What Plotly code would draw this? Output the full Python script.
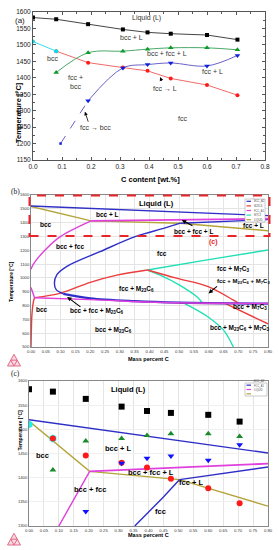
import plotly.graph_objects as go

W, H = 278, 550

# ---------------- data: experimental points (panels a and c) ----------------
x_liq = [0.0, 0.08, 0.19, 0.31, 0.395, 0.475, 0.60, 0.705]
T_liq = [1583, 1578, 1563, 1547, 1538, 1534, 1530, 1516]
x_cyan = [0.0, 0.08]
T_cyan = [1510, 1481]
x_red = [0.08, 0.19, 0.31, 0.395, 0.475, 0.60, 0.705]
T_red = [1481, 1446, 1431, 1421, 1398, 1378, 1347]
x_green = [0.08, 0.19, 0.31, 0.395, 0.475, 0.60, 0.705]
T_green = [1416, 1476, 1481, 1487, 1491, 1491, 1485]
x_blue = [0.19, 0.31, 0.395, 0.475, 0.60, 0.705]
T_blue = [1330, 1430, 1440, 1445, 1436, 1468]
x_blue_dash = [0.095, 0.19]
T_blue_dash = [1200, 1330]

# ---------------- data: calculated phase boundaries (panels b and c) ----------------
liq_blue_x = [0.0, 0.8]
liq_blue_T = [1520, 1451]
liquid_x = [0.0, 0.203, 0.504, 0.8]
liquid_T = [1517, 1413, 1396, 1341]
fcc_top_x = [0.203, 0.8]
fcc_top_T = [1413, 1429]
fcc_curve_x = [0.0, 0.008, 0.047, 0.1, 0.203]
fcc_curve_T = [1062, 1100, 1200, 1300, 1413]
bcc_top_x = [0.504, 0.8]
bcc_top_T = [1396, 1422]
bcc_curve_x = [0.504, 0.45, 0.354, 0.233, 0.12, 0.087, 0.079, 0.085, 0.109]
bcc_curve_T = [1396, 1360, 1300, 1190, 1082, 1022, 961, 915, 885]
bcc_low_x = [0.109, 0.2, 0.35, 0.5, 0.8]
bcc_low_T = [885, 853, 832, 821, 814]
fcc_low1_x = [0.0, 0.012]
fcc_low1_T = [930, 856]
fcc_low2_x = [0.012, 0.2, 0.45, 0.8]
fcc_low2_T = [856, 843, 822, 815]
m23_left_x = [0.0, 0.001, 0.003, 0.008, 0.012]
m23_left_T = [500, 600, 730, 827, 857]
m23_solv_x = [0.012, 0.1, 0.2, 0.29, 0.393]
m23_solv_T = [857, 890, 968, 1020, 1057]
m23_right_x = [0.393, 0.491, 0.598, 0.682, 0.70]
m23_right_T = [1057, 998, 937, 841, 818]
m23_low_x = [0.5, 0.655, 0.8]
m23_low_T = [817, 815, 668]
m7_up_x = [0.393, 0.6, 0.8]
m7_up_T = [1057, 1132, 1202]
m7_mid_x = [0.393, 0.436, 0.5, 0.56, 0.58]
m7_mid_T = [1057, 1020, 950, 863, 815]
m7_low_x = [0.52, 0.56, 0.605, 0.65, 0.683]
m7_low_T = [812, 767, 706, 622, 500]

legend_b = ["BCC_A2", "M23C6", "FCC_A1", "M7C3", "LIQUID"]
legend_c = ["BCC_A2", "FCC_A1", "LIQUID"]

C_BLUE = "#2f2fc8"
C_RED = "#ec3c3c"
C_MAG = "#e040dc"
C_CYAN = "#20e0b4"
C_OLIVE = "#b4a43a"
LEG_COL = {"BCC_A2": C_BLUE, "M23C6": C_RED, "FCC_A1": C_MAG, "M7C3": C_CYAN, "LIQUID": C_OLIVE}

FONT = "Liberation Sans"


def px(x):
    return x / W


def py(y):
    return 1 - y / H


fig = go.Figure()

# ---------------- panel (a) ----------------
A = dict(xaxis="x", yaxis="y")
fig.add_trace(go.Scatter(x=x_liq, y=T_liq, mode="lines+markers", line=dict(color="#444", width=1),
                         marker=dict(symbol="square", size=4, color="black"), **A))
fig.add_trace(go.Scatter(x=x_red, y=T_red, mode="lines+markers", line=dict(color="#f26a6a", width=1),
                         marker=dict(symbol="circle", size=4, color="#ff1a1a"), **A))
fig.add_trace(go.Scatter(x=x_cyan, y=T_cyan, mode="lines+markers", line=dict(color="#33e0f0", width=1),
                         marker=dict(symbol="circle", size=4, color="#00e0f0"), **A))
fig.add_trace(go.Scatter(x=x_green, y=T_green, mode="lines+markers",
                         line=dict(color="#4aa86a", width=1, shape="spline", smoothing=1.0),
                         marker=dict(symbol="triangle-up", size=5, color="#0c9a2a"), **A))
fig.add_trace(go.Scatter(x=x_blue, y=T_blue, mode="lines+markers",
                         line=dict(color="#6a62c8", width=1, shape="spline", smoothing=1.0),
                         marker=dict(symbol="triangle-down", size=5, color="#1020e0"), **A))
fig.add_trace(go.Scatter(x=x_blue_dash, y=T_blue_dash, mode="lines",
                         line=dict(color="#6a62c8", width=1, dash="dash"), **A))
fig.add_trace(go.Scatter(x=x_blue_dash[:1], y=T_blue_dash[:1], mode="markers",
                         marker=dict(symbol="square", size=2.5, color="#1020e0"), **A))

# ---------------- panel (b) ----------------
B = dict(xaxis="x2", yaxis="y2", mode="lines")


def bline(x, y, c, w=1.4, spline=False):
    ln = dict(color=c, width=w)
    if spline:
        ln.update(shape="spline", smoothing=1.0)
    fig.add_trace(go.Scatter(x=x, y=y, line=ln, **B))


bline(m7_up_x, m7_up_T, C_CYAN, spline=True)
bline(m7_mid_x, m7_mid_T, C_CYAN, spline=True)
bline(m7_low_x, m7_low_T, C_CYAN, spline=True)
bline(m23_left_x, m23_left_T, C_RED, spline=True)
bline(m23_solv_x, m23_solv_T, C_RED, spline=True)
bline(m23_right_x, m23_right_T, C_RED, spline=True)
bline(m23_low_x, m23_low_T, C_RED)
bline(liquid_x, liquid_T, C_OLIVE)
bline(fcc_curve_x, fcc_curve_T, C_MAG, spline=True)
bline(fcc_low1_x, fcc_low1_T, C_MAG)
bline(bcc_curve_x, bcc_curve_T, C_BLUE, spline=True)
bline(bcc_low_x, bcc_low_T, C_BLUE, w=2.2, spline=True)
bline(fcc_low2_x, fcc_low2_T, C_MAG, spline=True)
bline(bcc_top_x, bcc_top_T, C_BLUE)
bline(fcc_top_x, fcc_top_T, C_MAG, w=1.8)
bline(liq_blue_x, liq_blue_T, C_BLUE)

# ---------------- panel (c) ----------------
Cc = dict(xaxis="x3", yaxis="y3", mode="lines")
fig.add_trace(go.Scatter(x=liq_blue_x, y=liq_blue_T, line=dict(color=C_BLUE, width=1.4), **Cc))
fig.add_trace(go.Scatter(x=liquid_x, y=liquid_T, line=dict(color=C_OLIVE, width=1.4), **Cc))
fig.add_trace(go.Scatter(x=fcc_curve_x, y=fcc_curve_T, line=dict(color=C_MAG, width=1.4), **Cc))
fig.add_trace(go.Scatter(x=fcc_top_x, y=fcc_top_T, line=dict(color=C_MAG, width=1.8), **Cc))
fig.add_trace(go.Scatter(x=bcc_curve_x[:3], y=bcc_curve_T[:3], line=dict(color=C_BLUE, width=1.4), **Cc))
fig.add_trace(go.Scatter(x=bcc_top_x, y=bcc_top_T, line=dict(color=C_BLUE, width=1.4), **Cc))

M = dict(xaxis="x3", yaxis="y3", mode="markers")
fig.add_trace(go.Scatter(x=x_liq, y=T_liq, marker=dict(symbol="square", size=6, color="black"), **M))
fig.add_trace(go.Scatter(x=x_cyan, y=T_cyan, marker=dict(symbol="hexagon", size=8, color="#19f0f0"), **M))
fig.add_trace(go.Scatter(x=x_green, y=T_green, marker=dict(symbol="triangle-up", size=6, color="#1a8a2a"), **M))
fig.add_trace(go.Scatter(x=x_red, y=T_red, marker=dict(symbol="circle", size=6, color="#ff1a1a"), **M))
fig.add_trace(go.Scatter(x=x_blue, y=T_blue, marker=dict(symbol="triangle-down", size=6, color="#1010ff"), **M))

# ---------------- axes ----------------
tick_a = dict(family=FONT, size=6.5, color="#222")
tick_bc = dict(family=FONT, size=4.2, color="#333")
ax_a = dict(showline=True, linecolor="#555", linewidth=1, mirror="ticks", ticks="inside", ticklen=3,
            tickcolor="#555", showgrid=False, zeroline=False, tickfont=tick_a, automargin=False)
ax_bc = dict(showline=True, linecolor="#888", linewidth=0.8, mirror=True, ticks="", showgrid=True,
             gridcolor="#e4e4e4", gridwidth=0.6, zeroline=False, tickfont=tick_bc, automargin=False)

fig.update_layout(
    width=W, height=H, margin=dict(l=0, r=0, t=0, b=0, autoexpand=False), showlegend=False,
    paper_bgcolor="white", plot_bgcolor="white",
    xaxis=dict(domain=[px(33), px(265)], anchor="y", range=[0, 0.8], dtick=0.1, tickformat=".1f",
               minor=dict(ticks="inside", ticklen=2, dtick=0.05, tickcolor="#555"), **ax_a),
    yaxis=dict(domain=[py(160), py(12)], anchor="x", range=[1150, 1600], dtick=50,
               minor=dict(ticks="inside", ticklen=2, dtick=25, tickcolor="#555"), **ax_a),
    xaxis2=dict(domain=[px(31), px(268)], anchor="y2", range=[0, 0.8], dtick=0.05, tickformat=".2f", **ax_bc),
    yaxis2=dict(domain=[py(347), py(195)], anchor="x2", range=[500, 1600], dtick=100, **ax_bc),
    xaxis3=dict(domain=[px(29), px(268)], anchor="y3", range=[0, 0.8], dtick=0.05, tickformat=".2f", **ax_bc),
    yaxis3=dict(domain=[py(526), py(381)], anchor="x3", range=[1300, 1600], dtick=50,
                **{**ax_bc, "gridcolor": "#f0f0f0"}),
)

# ---------------- annotations ----------------
ann = []


def lab(text, x, y, ref, size=7, bold=True, color="black", **kw):
    t = f"<b>{text}</b>" if bold else text
    d = dict(text=t, x=x, y=y, showarrow=False, font=dict(family=FONT, size=size, color=color))
    if ref == "paper":
        d.update(xref="paper", yref="paper")
    else:
        d.update(xref="x" + ref, yref="y" + ref)
    d.update(kw)
    ann.append(d)


def arrow(x, y, ax, ay, ref, width=1, head=2, size=1):
    ann.append(dict(x=x, y=y, ax=ax, ay=ay, xref="x" + ref, yref="y" + ref, axref="x" + ref, ayref="y" + ref,
                    text="", showarrow=True, arrowhead=head, arrowsize=size, arrowwidth=width,
                    arrowcolor="black"))


# panel a labels
ra = ""
gray = "#333"
lab("Liquid (L)", 0.393, 1582, ra, size=7, bold=False, color=gray)
lab("bcc + L", 0.341, 1521, ra, size=7, bold=False, color=gray)
lab("bcc", 0.066, 1460, ra, size=7, bold=False, color=gray)
lab("bcc + fcc + L", 0.462, 1475, ra, size=7, bold=False, color=gray)
lab("fcc +<br>bcc", 0.145, 1386, ra, size=7, bold=False, color=gray)
lab("fcc + L", 0.62, 1418, ra, size=7, bold=False, color=gray)
lab("fcc → L", 0.455, 1366, ra, size=7, bold=False, color=gray)
lab("fcc → bcc", 0.217, 1250, ra, size=7, bold=False, color=gray)
lab("fcc", 0.517, 1275, ra, size=7, bold=False, color=gray)
arrow(0.438, 1402, 0.446, 1386, ra, width=0.8, head=2, size=0.9)
arrow(0.179, 1297, 0.192, 1262, ra, width=0.8, head=2, size=0.9)

ann.append(dict(text="(a)", x=px(13), y=py(14), xref="paper", yref="paper", showarrow=False,
                font=dict(family=FONT, size=8, color="#222")))
lab("Temperature [°C]", px(12), py(80), "paper", size=7.5, textangle=-90)
lab("C content [wt.%]", px(150), py(173), "paper", size=7.5)

# panel b labels
rb = "2"
M23 = "M<sub>23</sub>C<sub>6</sub>"
M7 = "M<sub>7</sub>C<sub>3</sub>"
lab("Liquid (L)", 0.424, 1535, rb, size=7.5)
lab("bcc + L", 0.257, 1460, rb, size=6.5)
lab("bcc", 0.05, 1383, rb, size=6.5)
lab("bcc + fcc + L", 0.548, 1334, rb, size=6.5)
lab("fcc + L", 0.75, 1378, rb, size=6.5)
lab("bcc + fcc", 0.13, 1226, rb, size=6.5)
lab("fcc", 0.441, 1178, rb, size=6.5)
lab("fcc + " + M7, 0.683, 1062, rb, size=6.5)
lab("fcc + " + M23 + " + " + M7, 0.717, 973, rb, size=6)
lab("fcc + " + M23, 0.356, 918, rb, size=6.5)
lab("bcc + fcc + " + M23, 0.222, 760, rb, size=6.5)
lab("bcc", 0.036, 768, rb, size=6.5)
lab("bcc + " + M7, 0.739, 787, rb, size=6.5)
lab("bcc + " + M23, 0.278, 623, rb, size=6.5)
lab("bcc + " + M23 + " + " + M7, 0.705, 635, rb, size=6.5)
lab("(c)", 0.615, 1262, rb, size=7, color="#e8252a")
arrow(0.509, 1419, 0.55, 1372, rb, width=1.1, head=2, size=0.8)
arrow(0.599, 888, 0.633, 948, rb, width=1.1, head=2, size=0.8)
arrow(0.122, 862, 0.172, 782, rb, width=1.1, head=2, size=0.8)

ann.append(dict(text="(b)", x=px(9), y=py(191), xref="paper", yref="paper", showarrow=False,
                font=dict(family="Liberation Serif", size=7.5, color="#222")))
lab("Temperature [°C]", px(6), py(282), "paper", size=5, textangle=-90)
lab("Mass percent C", px(148), py(359), "paper", size=5.5)

# panel c labels
rc = "3"
lab("Liquid (L)", 0.334, 1582, rc, size=7.5)
lab("bcc", 0.046, 1446, rc, size=7.5)
lab("bcc + L", 0.298, 1460, rc, size=7.5)
lab("bcc + fcc + L", 0.408, 1410, rc, size=7.5)
lab("fcc + L", 0.542, 1391, rc, size=7.5)
lab("bcc + fcc", 0.203, 1375, rc, size=7.5)
lab("fcc", 0.439, 1329, rc, size=7.5)

ann.append(dict(text="(c)", x=px(9), y=py(380), xref="paper", yref="paper", showarrow=False,
                font=dict(family="Liberation Serif", size=7.5, color="#222")))
lab("Temperature [°C]", px(14), py(453), "paper", size=5, textangle=-90)
lab("Mass percent C", px(148), py(539.5), "paper", size=5.5)

# ---------------- shapes: dashed box, legends, logos ----------------
shapes = []
shapes.append(dict(type="rect", xref="paper", yref="paper", x0=px(29.5), x1=px(269.5), y0=py(236), y1=py(195.5),
                   line=dict(color="#e8252a", width=2, dash="dash"), fillcolor="rgba(0,0,0,0)"))


def legend_box(names, x0, y0, x1, y1):
    shapes.append(dict(type="rect", xref="paper", yref="paper", x0=px(x0), x1=px(x1), y0=py(y1), y1=py(y0),
                       line=dict(color="#aaa", width=0.6), fillcolor="white"))
    step = (y1 - y0) / len(names)
    for i, n in enumerate(names):
        yy = y0 + step * (i + 0.5)
        shapes.append(dict(type="line", xref="paper", yref="paper", x0=px(x0 + 1.5), x1=px(x0 + 6),
                           y0=py(yy), y1=py(yy), line=dict(color=LEG_COL[n], width=1.2)))
        ann.append(dict(text=n, x=px(x0 + 7), y=py(yy), xref="paper", yref="paper", showarrow=False,
                        xanchor="left", font=dict(family=FONT, size=2.6, color="#555")))


legend_box(legend_b, 245, 199, 265, 222)
legend_box(legend_c, 245, 383, 267, 396)


def logo(cx, by, s):
    xl, xr, xt = cx - s / 2, cx + s / 2, cx
    yt = by - s * 0.9
    path = (f"M {px(xl)},{py(by)} L {px(xr)},{py(by)} L {px(xt)},{py(yt)} Z "
            f"M {px((xl + xt) / 2)},{py((by + yt) / 2)} L {px(cx)},{py(by)} "
            f"M {px((xr + xt) / 2)},{py((by + yt) / 2)} L {px(cx)},{py(by)} "
            f"M {px((xl + xt) / 2)},{py((by + yt) / 2)} L {px((xr + xt) / 2)},{py((by + yt) / 2)}")
    shapes.append(dict(type="path", xref="paper", yref="paper", path=path,
                       line=dict(color="#e06a8a", width=1), fillcolor="rgba(240,150,170,0.35)"))


logo(14, 366, 13)
logo(14, 545, 13)

fig.update_layout(annotations=ann, shapes=shapes)
fig.write_html("out.html", config={"displayModeBar": False},
               post_script="document.body.style.margin='0px';document.body.style.overflow='hidden';")
